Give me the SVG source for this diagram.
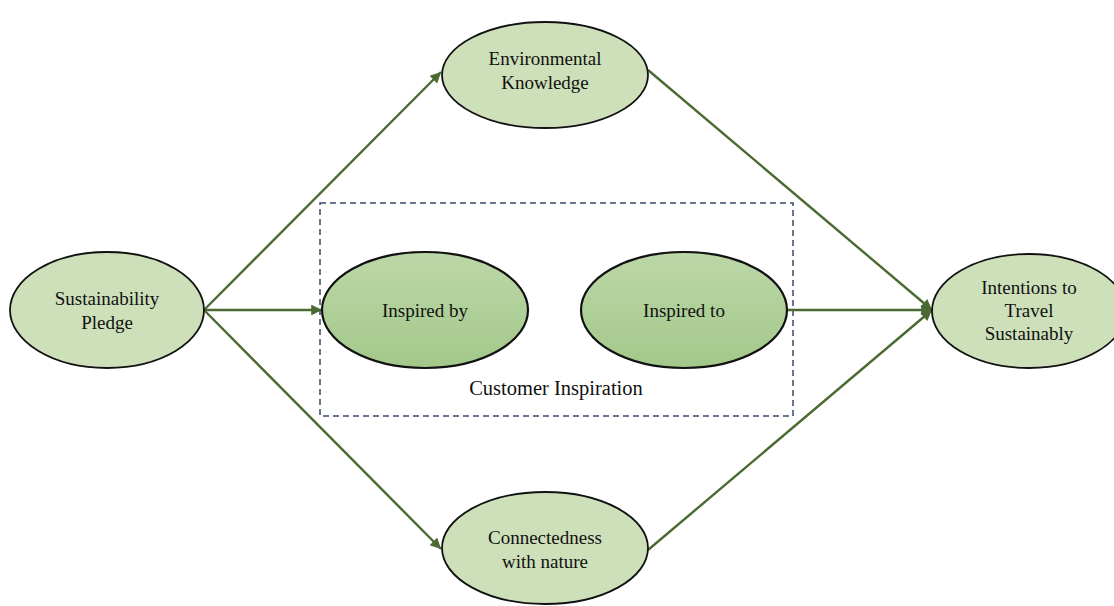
<svg xmlns="http://www.w3.org/2000/svg" width="1114" height="606" viewBox="0 0 1114 606">
  <defs>
    <style>
      .node { fill: #cde0b9; stroke: #111; stroke-width: 1.8; }
      .inner { fill: url(#innerGrad); stroke: #111; stroke-width: 2.2; }
      .label { font-family: "Liberation Serif", "Times New Roman", serif; font-size: 19px; fill: #111; text-anchor: middle; }
      .edge { stroke: #4a6a32; stroke-width: 2.4; fill: none; marker-end: url(#arrow); }
      .group-box { fill: none; stroke: #3a4a6a; stroke-width: 1.5; stroke-dasharray: 6 4; }
    </style>
    <linearGradient id="innerGrad" x1="0" y1="0" x2="0" y2="1">
      <stop offset="0" stop-color="#bcd7a8"/>
      <stop offset="1" stop-color="#a3c88a"/>
    </linearGradient>
    <marker id="arrow" viewBox="0 0 10 10" refX="10" refY="5" markerWidth="5" markerHeight="4.5" orient="auto" markerUnits="strokeWidth">
      <path d="M0,0 L10,5 L0,10 z" fill="#4a6a32"/>
    </marker>
  </defs>

  <!-- dashed grouping box -->
  <g id="customer-inspiration">
    <rect class="group-box" x="320" y="203" width="473" height="213"/>
    <text class="label" x="556" y="395" style="font-size:20.5px">Customer Inspiration</text>
  </g>

  <!-- connectors -->
  <g id="connectors">
    <line class="edge" x1="204" y1="310" x2="441" y2="72"/>
    <line class="edge" x1="204" y1="310" x2="322" y2="310"/>
    <line class="edge" x1="204" y1="310" x2="441" y2="549"/>
    <line class="edge" x1="648" y1="70" x2="932" y2="310"/>
    <line class="edge" x1="787" y1="310" x2="932" y2="310"/>
    <line class="edge" x1="648" y1="550" x2="932" y2="310"/>
  </g>

  <g id="sustainability-pledge">
    <ellipse class="node" cx="107" cy="310" rx="97" ry="58"/>
    <text class="label" x="107" y="305">Sustainability</text>
    <text class="label" x="107" y="329">Pledge</text>
  </g>

  <g id="environmental-knowledge">
    <ellipse class="node" cx="545" cy="75" rx="103" ry="53"/>
    <text class="label" x="545" y="65">Environmental</text>
    <text class="label" x="545" y="89">Knowledge</text>
  </g>

  <g id="connectedness-with-nature">
    <ellipse class="node" cx="545" cy="548" rx="103" ry="56"/>
    <text class="label" x="545" y="544">Connectedness</text>
    <text class="label" x="545" y="568">with nature</text>
  </g>

  <g id="inspired-by">
    <ellipse class="inner" cx="425" cy="310" rx="103" ry="58"/>
    <text class="label" x="425" y="317">Inspired by</text>
  </g>

  <g id="inspired-to">
    <ellipse class="inner" cx="684" cy="310" rx="103" ry="58"/>
    <text class="label" x="684" y="317">Inspired to</text>
  </g>

  <g id="intentions-to-travel">
    <ellipse class="node" cx="1029" cy="311" rx="97" ry="57"/>
    <text class="label" x="1029" y="294">Intentions to</text>
    <text class="label" x="1029" y="317">Travel</text>
    <text class="label" x="1029" y="340">Sustainably</text>
  </g>
</svg>
